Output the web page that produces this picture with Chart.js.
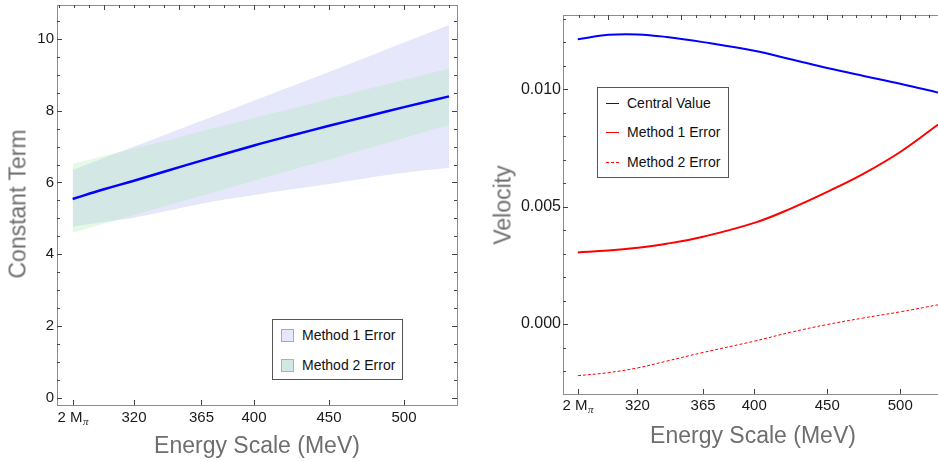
<!DOCTYPE html>
<html lang="en">
<head>
<meta charset="UTF-8">
<title>Constant Term and Velocity vs Energy Scale</title>
<script src="https://cdn.jsdelivr.net/npm/chart.js@4.4.0/dist/chart.umd.min.js"></script>
<style>
  body { margin: 0; width: 938px; height: 461px; overflow: hidden; background: #fff; position: relative;
         font-family: "Liberation Sans", Arial, sans-serif; }
  .panel { position: absolute; top: 0; height: 461px; }
  .title { position: absolute; color: #6e6e6e; font-size: 23px; line-height: 23px; white-space: nowrap;
           transform: translate(-50%, -50%); }
  .title.rot { transform: translate(-50%, -50%) rotate(-90deg); }
  .legend { position: absolute; border: 1px solid #555; background: #fff; font-size: 14px; color: #111; }
  .legend .item { position: absolute; white-space: nowrap; line-height: 14px; }
  .legend .sw { position: absolute; width: 11px; height: 11px; border: 1px solid #a8a8b8; }
  .legend .ln { position: absolute; width: 13px; height: 0; }
</style>
</head>
<body>
<div class="panel" style="left:0; width:470px;"><canvas id="left"></canvas></div>
<div class="panel" style="left:470px; width:480px;"><canvas id="right"></canvas></div>

<div class="title rot" style="left:18px; top:204px;">Constant Term</div>
<div class="title" style="left:257px; top:445px;">Energy Scale (MeV)</div>
<div class="title rot" style="left:503px; top:205px;">Velocity</div>
<div class="title" style="left:753px; top:435px;">Energy Scale (MeV)</div>

<div class="legend" style="left:272px; top:319px; width:129px; height:59px;">
  <div class="sw" style="left:8px; top:9px; background:rgb(231,231,251);"></div>
  <div class="item" style="left:29px; top:8px;">Method 1 Error</div>
  <div class="sw" style="left:8px; top:39px; background:rgb(210,233,227); border-color:#a0b8b0;"></div>
  <div class="item" style="left:29px; top:38px;">Method 2 Error</div>
</div>

<div class="legend" style="left:597px; top:87px; width:130px; height:89px;">
  <div class="ln" style="left:8px; top:15px; border-top:1.5px solid #0000ff;"></div>
  <div class="item" style="left:29px; top:8px;">Central Value</div>
  <div class="ln" style="left:8px; top:44px; border-top:1.5px solid #ff0000;"></div>
  <div class="item" style="left:29px; top:37px;">Method 1 Error</div>
  <div class="ln" style="left:8px; top:74px; border-top:1.5px dashed #ff0000;"></div>
  <div class="item" style="left:29px; top:67px;">Method 2 Error</div>
</div>

<script>
// x ticks shared by both panels (first one is 2 M_pi)
const mPi2 = 279.14
const xTicks = [mPi2, 320, 365, 400, 450, 500]
const xTickLabels = ['2 M', '320', '365', '400', '450', '500']

// left panel: constant term
const xLeft = [279.14, 300, 320, 340, 365, 400, 425, 450, 475, 500, 530]
const constCentral = [5.54, 5.81, 6.05, 6.30, 6.61, 7.03, 7.31, 7.58, 7.84, 8.10, 8.40]
const method1Lo = [4.77, 4.90, 5.02, 5.19, 5.41, 5.65, 5.81, 5.96, 6.12, 6.27, 6.41]
const method1Hi = [6.35, 6.68, 7.00, 7.32, 7.72, 8.28, 8.68, 9.08, 9.49, 9.90, 10.39]
const method2Lo = [4.60, 4.85, 5.09, 5.33, 5.63, 6.05, 6.35, 6.64, 6.94, 7.24, 7.60]
const method2Hi = [6.52, 6.74, 6.95, 7.15, 7.43, 7.80, 8.06, 8.33, 8.60, 8.86, 9.18]
const yTicksLeft = [0, 2, 4, 6, 8, 10]

// right panel: velocity
const xRight = [279.14, 300, 320, 340, 365, 400, 425, 450, 475, 500, 526]
const velCentral = [0.01213, 0.01232, 0.01234, 0.01223, 0.01201, 0.01164, 0.01128, 0.01091, 0.01057, 0.01024, 0.00986]
const velMethod1 = [0.00305, 0.00313, 0.00325, 0.00342, 0.00372, 0.00431, 0.00492, 0.00563, 0.00641, 0.00733, 0.00850]
const velMethod2 = [-0.00220, -0.00207, -0.00187, -0.00158, -0.00121, -0.00073, -0.00035, -0.00002, 0.00026, 0.00052, 0.00082]
const yTicksRight = [0, 0.005, 0.010]
const yTickLabelsRight = ['0.000', '0.005', '0.010']

Chart.defaults.font.family = '"Liberation Sans", Arial, sans-serif'
Chart.defaults.color = '#1a1a1a'

function range(a, b, step) {
  const out = []
  for (let v = a; v <= b + 1e-9; v += step) out.push(+v.toFixed(6))
  return out
}

const pts = (xs, ys) => xs.map((x, i) => ({x: x, y: ys[i]}))

// frame with inward ticks on all four sides, like a Mathematica frame
const framePlugin = {
  id: 'frame',
  afterDatasetsDraw(chart, args, o) {
    const {ctx, chartArea: a, scales: {x, y}} = chart
    ctx.save()
    ctx.strokeStyle = '#8c8c8c'
    ctx.lineWidth = 1
    ctx.strokeRect(Math.round(a.left) + 0.5, Math.round(a.top) + 0.5,
                   Math.round(a.right - a.left), Math.round(a.bottom - a.top))
    ctx.strokeStyle = '#444'
    const tickX = (v, y0, len) => {
      const p = Math.round(x.getPixelForValue(v)) + 0.5
      ctx.beginPath(); ctx.moveTo(p, y0); ctx.lineTo(p, y0 + len); ctx.stroke()
    }
    const tickY = (v, x0, len) => {
      const p = Math.round(y.getPixelForValue(v)) + 0.5
      ctx.beginPath(); ctx.moveTo(x0, p); ctx.lineTo(x0 + len, p); ctx.stroke()
    }
    o.bottom.forEach(v => tickX(v, a.bottom, -5))
    o.topMinor.forEach(v => tickX(v, a.top, 3))
    o.topMajor.forEach(v => tickX(v, a.top, 5))
    o.yMinor.forEach(v => { tickY(v, a.left, 3); tickY(v, a.right, -3) })
    o.yMajor.forEach(v => { tickY(v, a.left, 5); tickY(v, a.right, -5) })

    // 2 M_pi label with subscript
    const px = x.getPixelForValue(mPi2)
    const cy = a.bottom + o.labelPad + 9
    ctx.fillStyle = '#1a1a1a'
    ctx.font = '15px "Liberation Sans", Arial, sans-serif'
    const w1 = ctx.measureText('2 M').width
    ctx.font = 'italic 11px "Liberation Serif", "Times New Roman", serif'
    const w2 = ctx.measureText('π').width
    const sx = px - (w1 + w2) / 2
    ctx.textBaseline = 'middle'
    ctx.textAlign = 'left'
    ctx.font = '15px "Liberation Sans", Arial, sans-serif'
    ctx.fillText('2 M', sx, cy)
    ctx.font = 'italic 11px "Liberation Serif", "Times New Roman", serif'
    ctx.fillText('π', sx + w1 + 0.5, cy + 4)
    ctx.restore()
  }
}

function noPad(s) {
  s.paddingTop = 0; s.paddingBottom = 0; s.paddingLeft = 0; s.paddingRight = 0
}

function xScale(min, max, height, pad) {
  return {
    type: 'linear', min: min, max: max,
    grid: {display: false, drawTicks: false}, border: {display: false},
    afterBuildTicks: s => { s.ticks = xTicks.map(v => ({value: v})) },
    afterFit: s => { s.height = height; noPad(s) },
    ticks: {autoSkip: false, maxRotation: 0, padding: pad, font: {size: 15},
            callback: (v, i) => i === 0 ? '' : xTickLabels[i]}
  }
}

function yScale(min, max, ticks, labels, width, pad, size) {
  return {
    type: 'linear', min: min, max: max,
    grid: {display: false, drawTicks: false}, border: {display: false},
    afterBuildTicks: s => { s.ticks = ticks.map(v => ({value: v})) },
    afterFit: s => { s.width = width; noPad(s) },
    ticks: {padding: pad, font: {size: size}, callback: (v, i) => labels[i]}
  }
}

const band = (data, fill, color, order) => ({
  data: data, fill: fill, backgroundColor: color, borderWidth: 0,
  pointRadius: 0, tension: 0.4, order: order
})
const line = (data, color, width, dash) => ({
  data: data, borderColor: color, borderWidth: width, borderDash: dash || [],
  pointRadius: 0, fill: false, tension: 0.4, order: 0
})

const common = {
  responsive: true, maintainAspectRatio: false, animation: false,
  plugins: {legend: {display: false}, tooltip: {enabled: false}}
}

new Chart(document.getElementById('left'), {
  type: 'line',
  data: {
    datasets: [
      band(pts(xLeft, method1Lo), false, 'rgb(231,231,251)', 2),
      band(pts(xLeft, method1Hi), '-1', 'rgb(231,231,251)', 2),
      band(pts(xLeft, method2Lo), false, 'rgba(160,235,170,0.28)', 1),
      band(pts(xLeft, method2Hi), '-1', 'rgba(160,235,170,0.28)', 1),
      line(pts(xLeft, constCentral), '#0000ff', 2.5)
    ]
  },
  options: {
    ...common,
    layout: {padding: {top: 5, right: 13, left: 0, bottom: 0}},
    scales: {
      x: xScale(268.7, 535.3, 56, 4),
      y: yScale(-0.204, 10.948, yTicksLeft, yTicksLeft.map(String), 57, 3, 15)
    },
    plugins: {
      ...common.plugins,
      frame: {
        bottom: xTicks, topMajor: range(300, 500, 50), topMinor: range(270, 530, 10),
        yMajor: yTicksLeft, yMinor: range(0, 10.5, 0.5), labelPad: 4
      }
    }
  },
  plugins: [framePlugin]
})

new Chart(document.getElementById('right'), {
  type: 'line',
  data: {
    datasets: [
      line(pts(xRight, velCentral), '#0000ff', 2),
      line(pts(xRight, velMethod1), '#ff0000', 2),
      line(pts(xRight, velMethod2), '#ff0000', 1, [3, 2])
    ]
  },
  options: {
    ...common,
    layout: {padding: {top: 15, right: 6, left: 0, bottom: 0}},
    scales: {
      x: xScale(269, 530, 67, 3),
      y: yScale(-0.00298, 0.013166, yTicksRight, yTickLabelsRight, 93, 2, 16)
    },
    plugins: {
      ...common.plugins,
      frame: {
        bottom: xTicks, topMajor: range(300, 500, 50), topMinor: range(280, 530, 10),
        yMajor: yTicksRight, yMinor: range(-0.002, 0.013, 0.001), labelPad: 3
      }
    }
  },
  plugins: [framePlugin]
})
</script>
</body>
</html>
